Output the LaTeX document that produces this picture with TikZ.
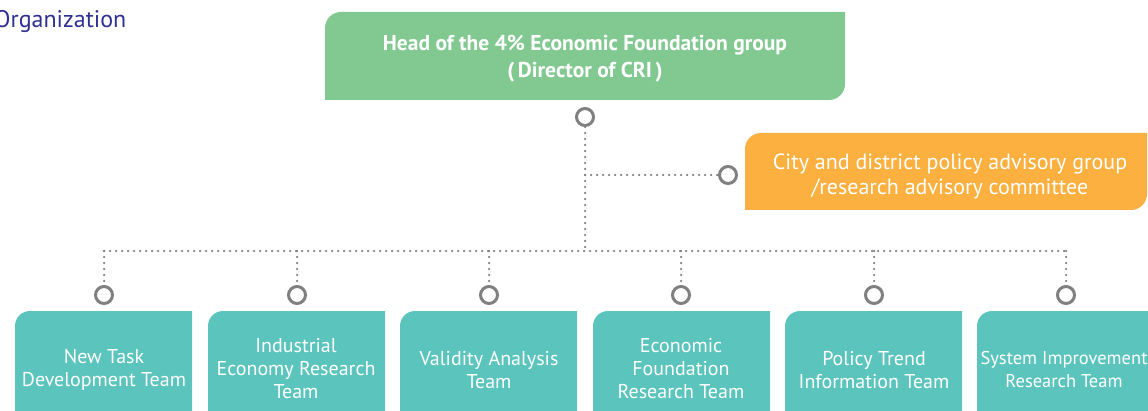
\documentclass[tikz,border=0pt]{standalone}
\usepackage{fontspec}
\setmainfont{PT Sans}
\definecolor{hgreen}{HTML}{82C991}
\definecolor{horange}{HTML}{FBB040}
\definecolor{hteal}{HTML}{5BC4BC}
\definecolor{hgray}{HTML}{808080}
\definecolor{hblue}{HTML}{2E3192}
\tikzset{
  ring/.style={circle,draw=hgray,line width=3pt,fill=white,minimum size=17pt,inner sep=0pt},
  dotline/.style={hgray,line width=2.5pt,line cap=round,dash pattern=on 0pt off 6pt},
  teamtext/.style={text=white,font=\fontsize{20}{23}\selectfont,align=center},
}
\newcommand\teambox[2]{%
  \fill[hteal] (#1,-20) -- (#1,84) arc(180:90:15) -- (#2,99) -- (#2,-20) -- cycle;}
\begin{document}
\begin{tikzpicture}[x=1pt,y=1pt]
\useasboundingbox (0,0) rectangle (1148,410);
\clip (0,0) rectangle (1148,410);
% title
\node[anchor=base west,inner sep=0pt,text=hblue,font=\fontsize{24}{26}\selectfont] (title) at (-6,382) {Organization};
% green head box
\fill[hgreen] (325,310) -- (325,382) arc(180:90:16) -- (845,398) -- (845,326) arc(0:-90:16) -- cycle;
\node[text=white,font=\bfseries\fontsize{21.5}{27}\selectfont,align=center] (head) at (585,351) {Head of the 4\% Economic Foundation group\\(\,Director of CRI\,)};
% orange advisory box
\fill[horange] (745,200) -- (745,261) arc(180:90:16) -- (1147,277) -- (1147,216) arc(0:-90:16) -- cycle;
\node[text=white,font=\fontsize{22}{25}\selectfont,align=center] (adv) at (950,234) {City and district policy advisory group\\/research advisory committee};
% team boxes
\teambox{15}{192}
\teambox{208}{385}
\teambox{400}{577}
\teambox{593}{770}
\teambox{785}{962}
\teambox{977}{1160}
\node[teamtext] (t1) at (104,40) {New Task\\Development Team};
\node[teamtext] (t2) at (296,41) {Industrial\\Economy Research\\Team};
\node[teamtext] (t3) at (489,40) {Validity Analysis\\Team};
\node[teamtext] (t4) at (681,41) {Economic\\Foundation\\Research Team};
\node[teamtext] (t5) at (874,40) {Policy Trend\\Information Team};
\node[teamtext,font=\fontsize{18.5}{23}\selectfont] (t6) at (1064,40) {System Improvement\\Research Team};
% junction coordinates
\coordinate (jtop) at (585,235);
\coordinate (jbus) at (585,159);
\coordinate (busL) at (104,159);
\coordinate (busR) at (1067,159);
% rings
\node[ring] (rh) at (585,293) {};
\node[ring] (ra) at (728,235) {};
\foreach \i/\x in {1/104,2/297,3/489,4/681,5/874,6/1066}{
  \node[ring] (r\i) at (\x,115) {};
}
% dotted connectors
\draw[dotline] (rh.south) -- (jbus);
\draw[dotline] (jtop) -- (ra.west);
\draw[dotline] (busL) -- (busR);
\foreach \i/\x in {1/104,2/297,3/489,4/681,5/874,6/1066}{
  \draw[dotline] (\x,159) -- (r\i.north);
}
\end{tikzpicture}
\end{document}
